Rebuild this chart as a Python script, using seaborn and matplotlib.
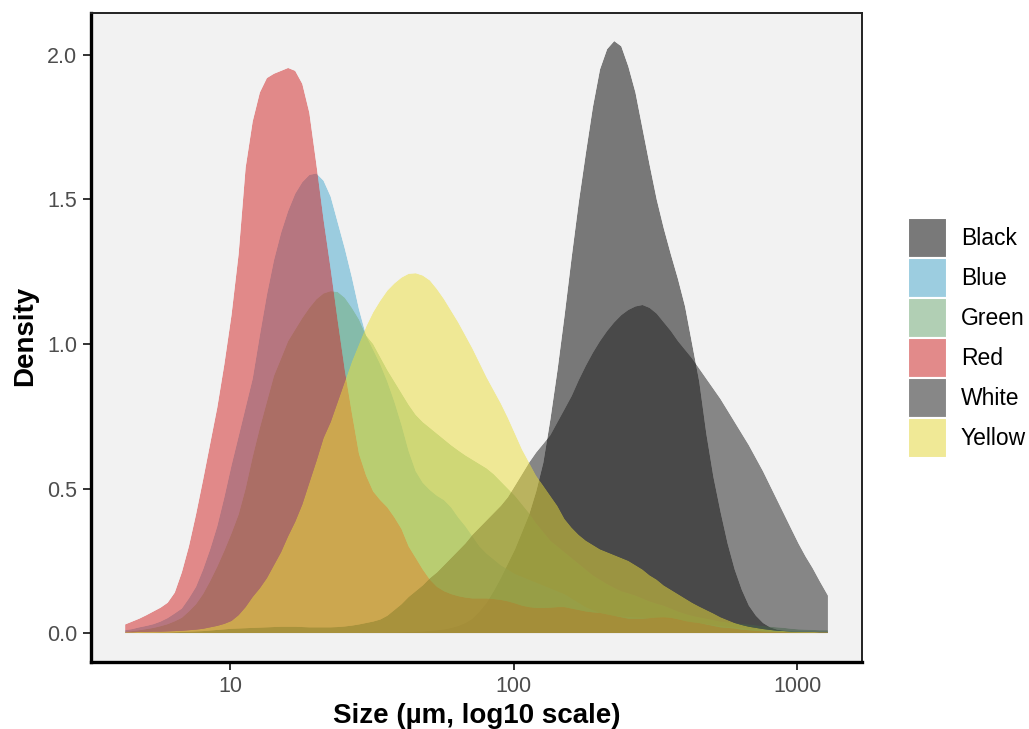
import matplotlib
matplotlib.use("Agg")
import matplotlib.pyplot as plt
from matplotlib.patches import Patch
from matplotlib.ticker import NullLocator, FixedLocator, FixedFormatter
from matplotlib.colors import to_rgb
import pandas as pd
import seaborn as sns
import seaborn.objects as so

# Particle size grid (µm), log-spaced
size_um = [4.266, 4.519, 4.786, 5.070, 5.370, 5.689, 6.026, 6.383, 6.761, 7.161,
           7.586, 8.035, 8.511, 9.016, 9.550, 10.12, 10.72, 11.35, 12.02, 12.74,
           13.49, 14.29, 15.14, 16.03, 16.98, 17.99, 19.05, 20.18, 21.38, 22.65,
           23.99, 25.41, 26.92, 28.51, 30.20, 31.99, 33.88, 35.89, 38.02, 40.27,
           42.66, 45.19, 47.86, 50.70, 53.70, 56.89, 60.26, 63.83, 67.61, 71.61,
           75.86, 80.35, 85.11, 90.16, 95.50, 101.2, 107.2, 113.5, 120.2, 127.4,
           134.9, 142.9, 151.4, 160.3, 169.8, 179.9, 190.5, 201.8, 213.8, 226.5,
           239.9, 254.1, 269.2, 285.1, 302.0, 319.9, 338.8, 358.9, 380.2, 402.7,
           426.6, 451.9, 478.6, 507.0, 537.0, 568.9, 602.6, 638.3, 676.1, 716.1,
           758.6, 803.5, 851.1, 901.6, 955.0, 1012, 1072, 1135, 1202, 1285]

# Density (on log10 size) for each particle colour
black = [0, 0, 0, 0, 0, 0, 0, 0, 0, 0,
         0, 0, 0, 0, 0, 0, 0, 0, 0, 0,
         0, 0, 0, 0, 0, 0, 0, 0, 0, 0,
         0, 0, 0, 0, 0.001, 0.001, 0.001, 0.002, 0.002, 0.003,
         0.004, 0.005, 0.006, 0.008, 0.010, 0.013, 0.018, 0.025, 0.035, 0.050,
         0.075, 0.105, 0.145, 0.19, 0.24, 0.29, 0.35, 0.41, 0.49, 0.59,
         0.74, 0.91, 1.10, 1.30, 1.49, 1.66, 1.82, 1.95, 2.02, 2.048,
         2.03, 1.96, 1.87, 1.745, 1.62, 1.50, 1.40, 1.31, 1.225, 1.13,
         1.00, 0.87, 0.69, 0.54, 0.42, 0.31, 0.22, 0.15, 0.095, 0.06,
         0.035, 0.02, 0.012, 0.008, 0.005, 0.003, 0.002, 0.001, 0.001, 0.001]
blue = [0.010, 0.014, 0.020, 0.025, 0.031, 0.040, 0.052, 0.068, 0.085, 0.12,
        0.16, 0.22, 0.29, 0.37, 0.47, 0.58, 0.68, 0.78, 0.88, 1.03,
        1.17, 1.29, 1.385, 1.46, 1.52, 1.56, 1.585, 1.59, 1.565, 1.51,
        1.42, 1.33, 1.23, 1.12, 1.03, 0.98, 0.93, 0.87, 0.80, 0.72,
        0.63, 0.56, 0.52, 0.495, 0.475, 0.46, 0.435, 0.40, 0.37, 0.335,
        0.30, 0.275, 0.255, 0.235, 0.22, 0.205, 0.195, 0.185, 0.175, 0.165,
        0.155, 0.145, 0.135, 0.12, 0.105, 0.09, 0.08, 0.07, 0.065, 0.06,
        0.058, 0.056, 0.055, 0.054, 0.052, 0.051, 0.05, 0.048, 0.045, 0.042,
        0.038, 0.035, 0.032, 0.028, 0.025, 0.022, 0.02, 0.018, 0.016, 0.014,
        0.012, 0.011, 0.010, 0.009, 0.008, 0.007, 0.006, 0.006, 0.005, 0.005]
green = [0.005, 0.007, 0.010, 0.014, 0.018, 0.024, 0.031, 0.041, 0.053, 0.075,
         0.10, 0.135, 0.18, 0.23, 0.285, 0.345, 0.41, 0.50, 0.61, 0.71,
         0.80, 0.89, 0.95, 1.01, 1.05, 1.09, 1.125, 1.155, 1.175, 1.183,
         1.18, 1.16, 1.125, 1.085, 1.03, 1.00, 0.955, 0.91, 0.87, 0.83,
         0.79, 0.755, 0.73, 0.71, 0.69, 0.67, 0.65, 0.632, 0.615, 0.60,
         0.585, 0.57, 0.55, 0.525, 0.50, 0.475, 0.445, 0.415, 0.38, 0.35,
         0.32, 0.30, 0.28, 0.26, 0.24, 0.22, 0.20, 0.185, 0.17, 0.157,
         0.145, 0.138, 0.13, 0.12, 0.11, 0.102, 0.095, 0.085, 0.075, 0.067,
         0.06, 0.055, 0.05, 0.045, 0.04, 0.037, 0.035, 0.032, 0.03, 0.027,
         0.025, 0.022, 0.02, 0.018, 0.015, 0.013, 0.012, 0.011, 0.010, 0.010]
red = [0.03, 0.04, 0.05, 0.062, 0.075, 0.088, 0.105, 0.14, 0.21, 0.30,
       0.41, 0.53, 0.655, 0.78, 0.93, 1.10, 1.31, 1.61, 1.77, 1.87,
       1.92, 1.935, 1.945, 1.955, 1.945, 1.90, 1.80, 1.62, 1.43, 1.26,
       1.08, 0.91, 0.76, 0.62, 0.545, 0.49, 0.46, 0.435, 0.40, 0.36,
       0.30, 0.26, 0.22, 0.185, 0.16, 0.145, 0.135, 0.128, 0.123, 0.12,
       0.12, 0.12, 0.118, 0.115, 0.11, 0.103, 0.095, 0.09, 0.087, 0.087,
       0.088, 0.09, 0.09, 0.085, 0.08, 0.075, 0.072, 0.07, 0.065, 0.06,
       0.055, 0.05, 0.05, 0.05, 0.052, 0.054, 0.055, 0.053, 0.048, 0.042,
       0.038, 0.035, 0.03, 0.025, 0.02, 0.018, 0.016, 0.012, 0.01, 0.008,
       0.006, 0.005, 0.004, 0.004, 0.003, 0.003, 0.003, 0.003, 0.003, 0.003]
white = [0.0, 0.0, 0.0, 0.001, 0.001, 0.002, 0.002, 0.003, 0.004, 0.005,
         0.006, 0.007, 0.009, 0.011, 0.013, 0.015, 0.016, 0.017, 0.018, 0.019,
         0.02, 0.021, 0.022, 0.022, 0.022, 0.021, 0.02, 0.02, 0.02, 0.02,
         0.021, 0.023, 0.026, 0.03, 0.035, 0.04, 0.047, 0.06, 0.08, 0.10,
         0.125, 0.145, 0.165, 0.19, 0.21, 0.235, 0.26, 0.285, 0.31, 0.34,
         0.365, 0.39, 0.415, 0.44, 0.47, 0.51, 0.55, 0.59, 0.625, 0.655,
         0.685, 0.73, 0.775, 0.82, 0.875, 0.925, 0.97, 1.01, 1.045, 1.075,
         1.10, 1.118, 1.13, 1.135, 1.125, 1.105, 1.075, 1.045, 1.01, 0.98,
         0.95, 0.915, 0.88, 0.845, 0.81, 0.77, 0.73, 0.69, 0.65, 0.605,
         0.56, 0.51, 0.46, 0.41, 0.36, 0.31, 0.265, 0.225, 0.18, 0.13]
yellow = [0.003, 0.003, 0.004, 0.004, 0.005, 0.005, 0.006, 0.007, 0.008, 0.010,
          0.012, 0.015, 0.020, 0.025, 0.032, 0.042, 0.062, 0.09, 0.125, 0.155,
          0.19, 0.235, 0.28, 0.335, 0.385, 0.445, 0.52, 0.595, 0.675, 0.73,
          0.80, 0.87, 0.94, 1.00, 1.06, 1.11, 1.15, 1.185, 1.21, 1.23,
          1.243, 1.245, 1.237, 1.22, 1.19, 1.155, 1.115, 1.075, 1.03, 0.985,
          0.935, 0.885, 0.84, 0.795, 0.745, 0.69, 0.635, 0.59, 0.545, 0.51,
          0.475, 0.44, 0.395, 0.365, 0.34, 0.32, 0.305, 0.29, 0.28, 0.27,
          0.26, 0.25, 0.235, 0.22, 0.20, 0.185, 0.165, 0.15, 0.135, 0.12,
          0.105, 0.092, 0.08, 0.068, 0.055, 0.045, 0.035, 0.028, 0.022, 0.018,
          0.014, 0.011, 0.008, 0.007, 0.005, 0.005, 0.004, 0.004, 0.003, 0.003]

colour_order = ["Black", "Blue", "Green", "Red", "White", "Yellow"]
series = [black, blue, green, red, white, yellow]
palette = {"Black": "#000000", "Blue": "#46A8CE", "Green": "#70AC76",
           "Red": "#D22222", "White": "#1C1C1C", "Yellow": "#EEE03A"}
fill_alpha = 0.5
panel_bg = "#F2F2F2"

df = pd.concat(
    [pd.DataFrame({"size": size_um, "density": vals, "colour": name})
     for name, vals in zip(colour_order, series)],
    ignore_index=True,
)

sns.set_theme(style="white")
plt.rcParams["font.family"] = ["Liberation Sans", "DejaVu Sans"]

W, H = 1029, 729
fig = plt.figure(figsize=(W / 100, H / 100), dpi=100)
fig.patch.set_facecolor("white")
ax = fig.add_axes([91 / W, 1 - 662 / H, (862 - 91) / W, (662 - 13) / H])
ax.set_facecolor(panel_bg)

(
    so.Plot(df, x="size", y="density", color="colour")
    .add(so.Area(alpha=fill_alpha, edgewidth=0), legend=False)
    .scale(x=so.Continuous(trans="log"),
           color=so.Nominal(palette, order=colour_order))
    .on(ax)
    .plot()
)

ax.set_facecolor(panel_bg)
ax.grid(False)
ax.set_xlim(10 ** 0.5097, 10 ** 3.229)
ax.set_ylim(-0.100, 2.145)
ax.xaxis.set_major_locator(FixedLocator([10, 100, 1000]))
ax.xaxis.set_major_formatter(FixedFormatter(["10", "100", "1000"]))
ax.xaxis.set_minor_locator(NullLocator())
ax.yaxis.set_major_locator(FixedLocator([0, 0.5, 1.0, 1.5, 2.0]))
ax.yaxis.set_major_formatter(FixedFormatter(["0.0", "0.5", "1.0", "1.5", "2.0"]))
ax.yaxis.set_minor_locator(NullLocator())
ax.tick_params(axis="both", which="major", length=6, width=1.4,
               color="#333333", labelcolor="#4D4D4D", labelsize=15.5, pad=4,
               bottom=True, left=True)
ax.set_xlabel("")
ax.set_ylabel("")

for side in ["left", "bottom"]:
    ax.spines[side].set_visible(True)
    ax.spines[side].set_color("black")
    ax.spines[side].set_linewidth(2.4)
for side in ["top", "right"]:
    ax.spines[side].set_visible(True)
    ax.spines[side].set_color("#222222")
    ax.spines[side].set_linewidth(1.4)

fig.text(476.5 / W, 1 - 723 / H, "Size (µm, log10 scale)", ha="center",
         va="baseline", fontsize=20, fontweight="bold", color="black")
fig.text(25 / W, 1 - 336 / H, "Density", ha="center", va="center",
         rotation=90, fontsize=20, fontweight="bold", color="black")

# Legend keys: fill colour composited over the key background
bg_rgb = to_rgb(panel_bg)
handles = []
for name in colour_order:
    c = to_rgb(palette[name])
    blended = tuple(fill_alpha * ci + (1 - fill_alpha) * bi for ci, bi in zip(c, bg_rgb))
    handles.append(Patch(facecolor=blended, edgecolor="white", linewidth=1.5))

legend_fs = 16.5
fig.legend(handles, colour_order, loc="center left",
           bbox_to_anchor=(908 / W, 1 - 338 / H), frameon=False, fontsize=legend_fs,
           handlelength=1.70, handleheight=2.31, handletextpad=0.61,
           labelspacing=0.0, borderpad=0, borderaxespad=0,
           labelcolor="black")

fig.savefig("out.png", dpi=100, facecolor="white")
